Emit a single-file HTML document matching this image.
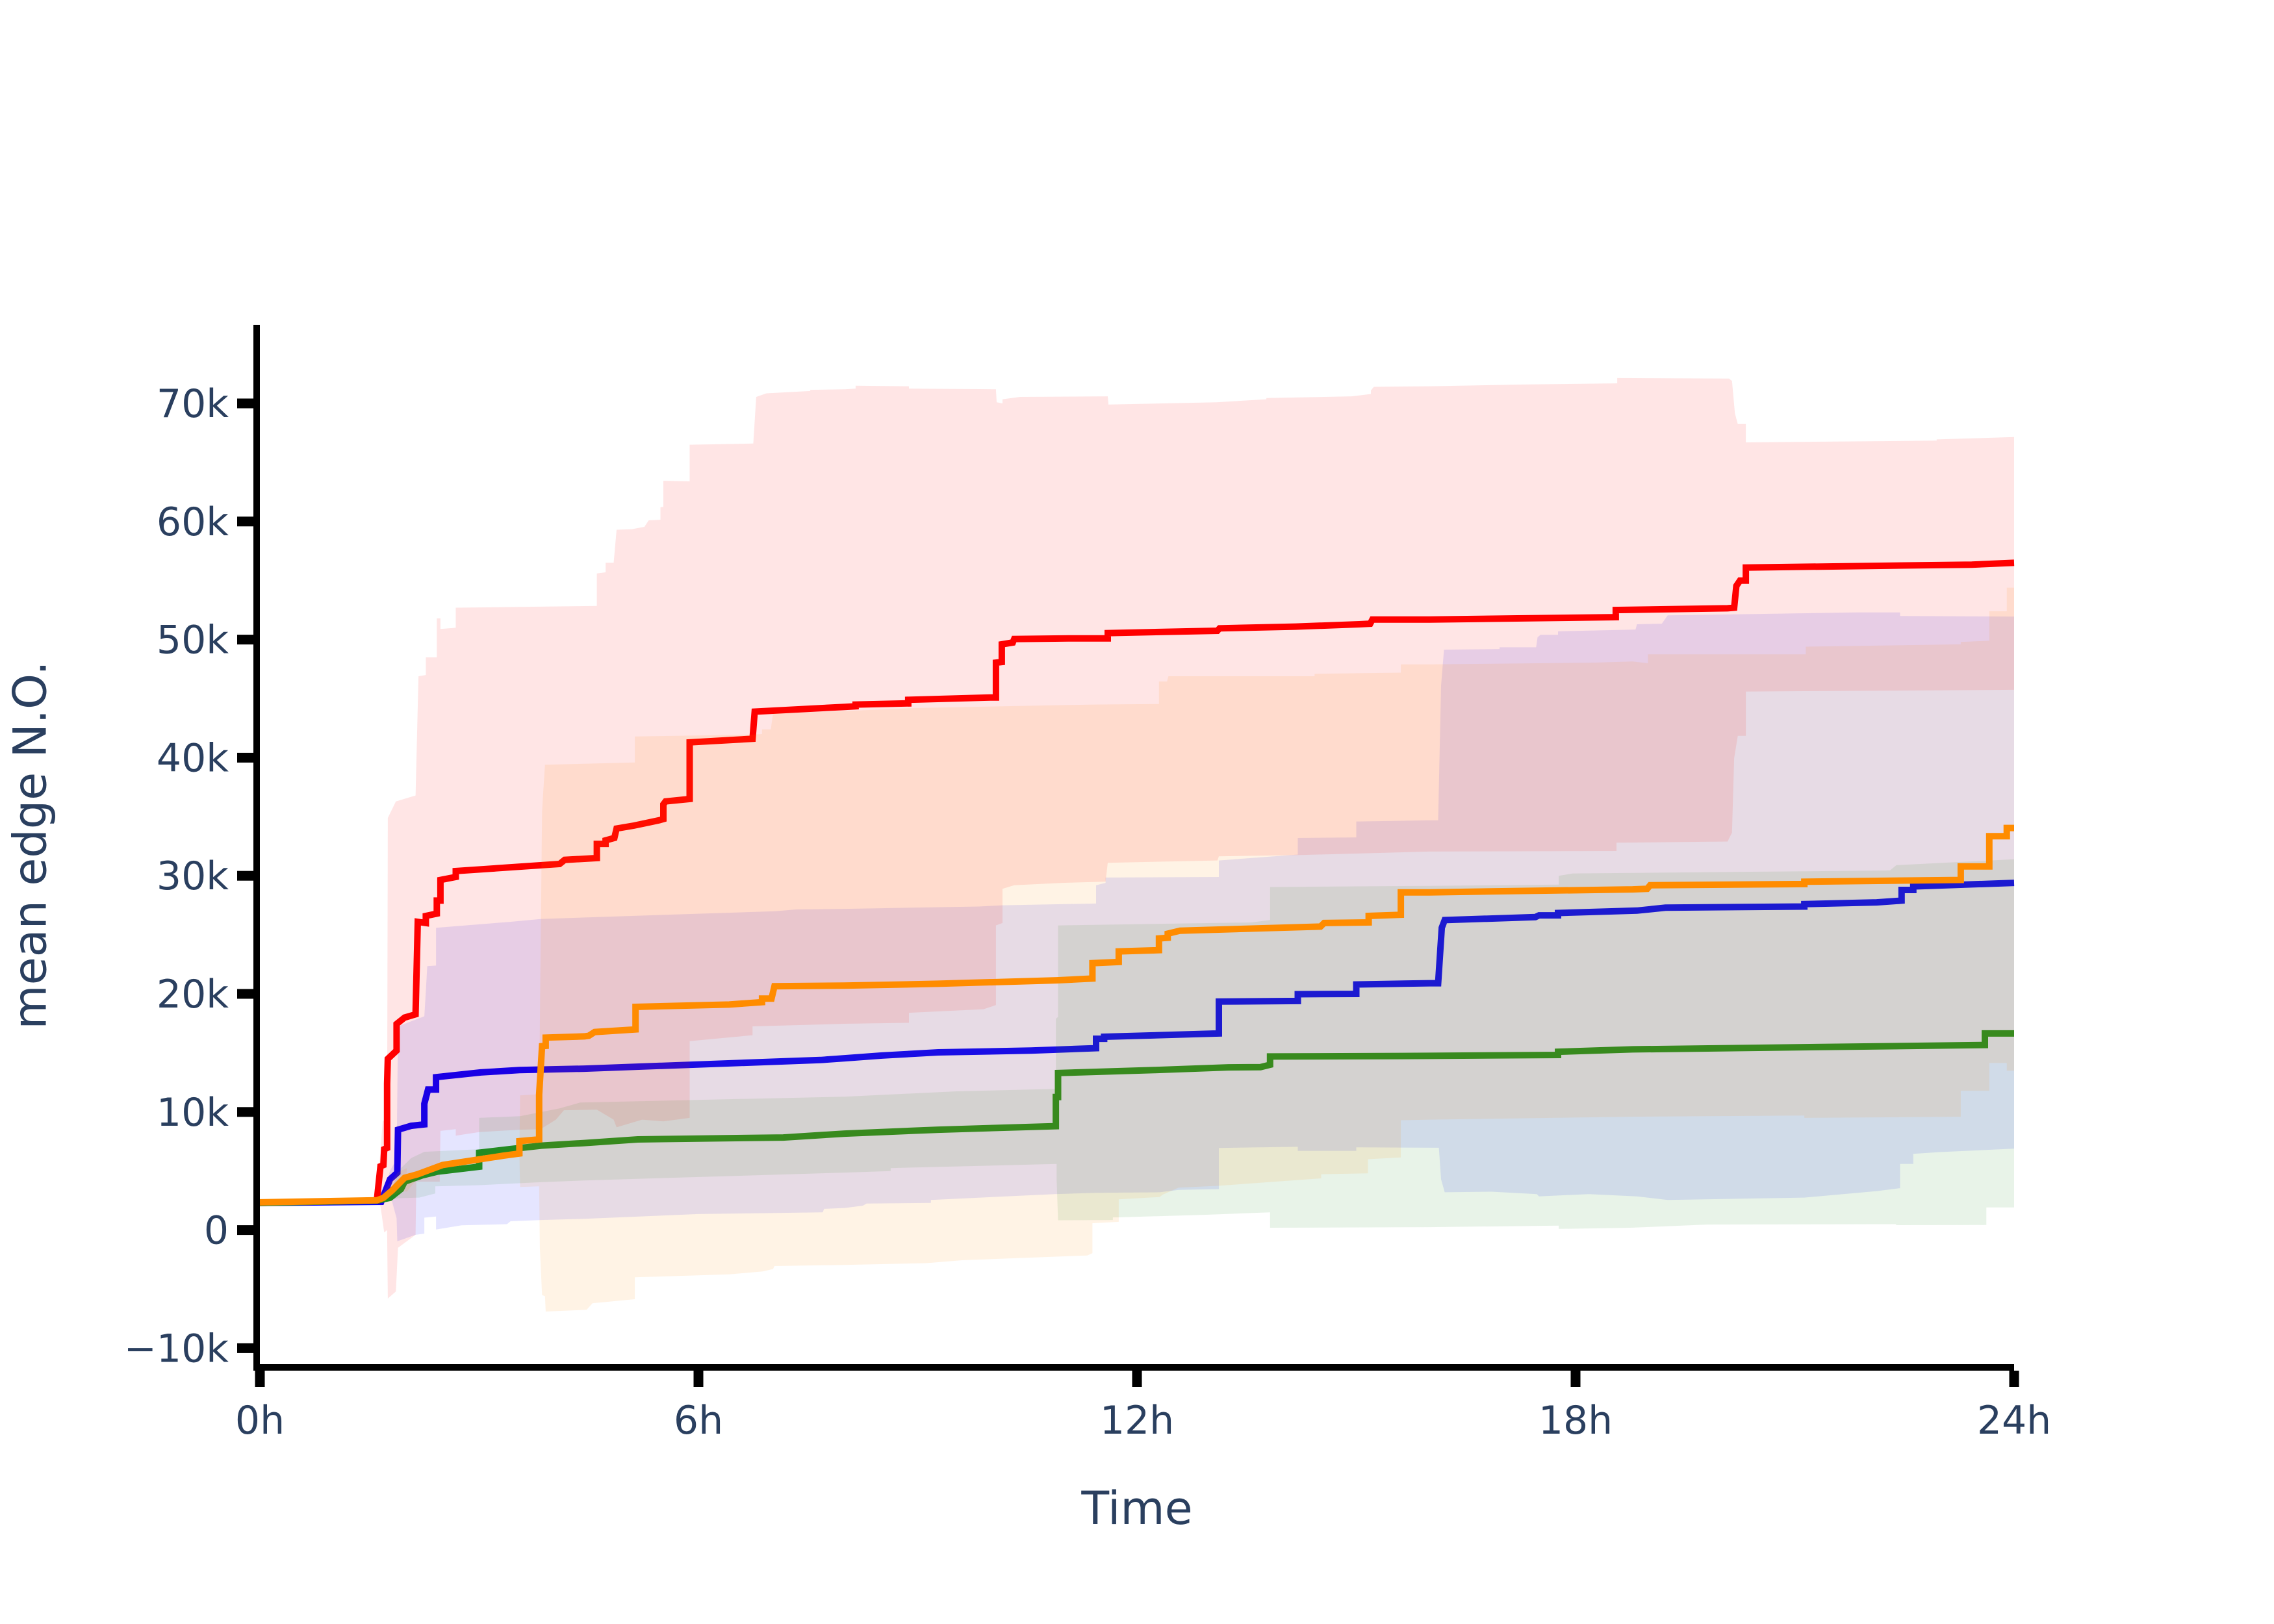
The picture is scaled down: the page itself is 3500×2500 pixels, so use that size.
<!DOCTYPE html>
<html lang="en">
<head>
<meta charset="utf-8">
<title>mean edge N.O. over time</title>
<style>
  html, body { margin: 0; padding: 0; background: #ffffff; }
  #chart { display: block; width: 3500px; height: 2500px; }
  text { font-family: "DejaVu Sans", "Liberation Sans", sans-serif; fill: #2a3f5f; }
</style>
</head>
<body>
<svg id="chart" xmlns="http://www.w3.org/2000/svg" width="3500" height="2500" viewBox="0 0 3500 2500">
  <rect x="0" y="0" width="3500" height="2500" fill="#ffffff"></rect>
  <g id="series"></g>
  <g id="axes"></g>
  <text x="1750" y="2346" font-size="70" text-anchor="middle">Time</text>
  <text x="0" y="0" font-size="70" text-anchor="middle" transform="translate(70.5 1301) rotate(-90)">mean edge N.O.</text>
</svg>
<script>
// Axis ticks
const xTickHours = [0, 6, 12, 18, 24];
const xTickLabels = ["0h", "6h", "12h", "18h", "24h"];
const yTickValues = [-10, 0, 10, 20, 30, 40, 50, 60, 70];
const yTickLabels = ["\u221210k", "0", "10k", "20k", "30k", "40k", "50k", "60k", "70k"];

// Red series (thousands)
const redMeanHours = [
  0,1.6,1.65,1.69,1.7,1.74,1.74,1.75,1.87,1.87,
  1.98,2.13,2.16,2.27,2.27,2.42,2.42,2.47,2.47,2.68,
  2.68,4.1,4.17,4.61,4.61,4.73,4.73,4.85,4.88,5.12,
  5.46,5.52,5.52,5.55,5.88,5.88,6.74,6.77,8,8.15,
  8.15,8.87,8.87,9.99,10.07,10.07,10.15,10.15,10.3,10.32,
  11.06,11.6,11.6,13.1,13.13,14.17,15.04,15.19,15.22,16,
  18.55,18.55,20.08,20.17,20.2,20.25,20.33,20.33,23.42,24];
const redMeanValues = [
  2.3,2.5,5.4,5.5,6.85,6.95,12.4,14.5,15.2,17.45,
  18,18.27,26.1,26,26.6,26.8,27.9,27.9,29.65,29.9,
  30.4,31,31.35,31.5,32.7,32.7,33,33.2,34,34.25,
  34.7,34.8,36.05,36.3,36.5,41.3,41.6,43.9,44.3,44.35,
  44.5,44.6,44.9,45.1,45.1,48.05,48.1,49.6,49.75,50.05,
  50.1,50.1,50.55,50.75,50.95,51.1,51.3,51.35,51.7,51.7,
  51.9,52.5,52.65,52.7,54.55,55,55,56.1,56.35,56.5];
const redUpperHours = [
  1.6,1.68,1.74,1.75,1.86,2.13,2.17,2.27,2.27,2.42,
  2.42,2.47,2.47,2.68,2.68,4.61,4.61,4.73,4.73,4.84,
  4.88,5.09,5.26,5.32,5.48,5.48,5.52,5.52,5.88,5.88,
  6.75,6.79,6.93,7.53,7.53,8,8.15,8.15,8.88,8.88,
  10.07,10.08,10.16,10.16,10.4,11.6,11.61,13.09,13.77,13.77,
  14.94,15.2,15.2,15.24,16,17.3,18.57,18.57,20.1,20.14,
  20.18,20.22,20.33,20.33,22.94,22.94,24];
const redUpperValues = [
  2.7,9.2,9.5,34.9,36.3,36.8,46.9,47,48.5,48.5,
  51.8,51.8,50.9,51,52.7,52.85,55.6,55.7,56.5,56.5,
  59.3,59.35,59.55,60.1,60.15,61.2,61.25,63.45,63.4,66.5,
  66.6,70.55,70.85,71.05,71.15,71.2,71.25,71.5,71.45,71.25,
  71.2,70.1,70,70.35,70.55,70.6,69.9,70.1,70.35,70.45,
  70.6,70.8,71.1,71.4,71.45,71.6,71.7,72.15,72.1,71.9,
  69.15,68.25,68.25,66.7,66.85,66.95,67.15];
const redLowerHours = [
  1.6,1.65,1.67,1.7,1.74,1.75,1.86,1.89,2.13,2.14,
  2.46,2.47,2.68,2.68,3,3.56,3.84,4.05,4.16,4.61,
  4.84,4.88,5.23,5.52,5.88,5.88,6.74,6.74,8,8.88,
  8.88,9.9,10.07,10.07,10.16,10.16,10.32,10.98,11.57,11.6,
  13.1,13.12,14.2,16,18.56,18.56,20.08,20.14,20.17,20.22,
  20.33,20.33,24];
const redLowerValues = [
  2.6,2,1.15,-0.2,0,-5.8,-5.2,-1.5,-0.4,4.1,
  4.1,8.4,8.55,8,8.3,8.5,8.55,9.35,10.15,10.2,
  9.35,8.7,9.35,9.2,9.5,16,16.5,17.25,17.47,17.55,
  18.4,18.7,19.05,25.8,26,28.9,29.2,29.4,29.5,31.1,
  31.3,31.65,31.75,32.05,32.1,32.8,32.9,33.65,39.95,41.85,
  41.85,45.6,45.75];

// Blue series (thousands)
const blueMeanHours = [
  0,1.66,1.78,1.88,1.89,2.07,2.25,2.25,2.3,2.41,
  2.41,3.02,3.55,4.44,7.67,8,8.51,9.28,10.55,11.44,
  11.44,11.55,11.55,12.85,13.12,13.12,14.2,14.2,15,15,
  16,16.12,16.17,16.21,17.45,17.5,17.76,17.76,18.84,19.23,
  21.13,21.13,22.12,22.46,22.46,22.62,22.62,24];
const blueMeanValues = [
  2.3,2.4,4.3,4.85,8.5,8.83,8.95,10.7,11.9,11.9,
  12.95,13.35,13.55,13.67,14.4,14.55,14.78,15.05,15.2,15.4,
  16.2,16.2,16.37,16.6,16.65,19.35,19.4,19.97,20,20.8,
  20.9,20.9,25.6,26.25,26.5,26.65,26.65,26.85,27.05,27.3,
  27.4,27.6,27.75,27.9,28.8,28.8,29.1,29.4];
const blueUpperHours = [
  1.66,1.78,1.87,1.89,2.25,2.27,2.29,2.41,2.41,3.42,
  3.85,7.05,7.34,8,9.84,10.16,11.44,11.44,11.57,11.57,
  13.12,13.12,14.2,14.2,15,15,16,16.12,16.16,16.2,
  16.96,16.96,17.46,17.48,17.52,17.76,17.76,18.82,18.84,19.18,
  19.26,21.84,22.44,22.44,24];
const blueUpperValues = [
  2.5,5.04,6,17.25,18.1,20.2,22.35,22.4,25.6,26.1,
  26.35,27,27.15,27.2,27.4,27.5,27.65,29.2,29.4,29.85,
  29.9,31.3,31.8,33.2,33.25,34.6,34.7,34.7,46.1,49.15,
  49.2,49.35,49.35,50.2,50.4,50.4,50.7,50.85,51.3,51.35,
  52.05,52.3,52.3,52,51.95];
const blueLowerHours = [
  1.66,1.8,1.87,1.88,2.13,2.25,2.25,2.41,2.41,2.76,
  3.38,3.43,3.85,4.44,6,7.7,7.72,8,8.25,8.3,
  9.18,9.18,10.88,11.44,12.31,12.57,13.12,13.12,14.2,14.2,
  15,15,16.13,16.16,16.21,16.85,17.47,17.5,18.18,18.84,
  19.26,21.13,22.12,22.44,22.44,22.62,22.62,22.97,24];
const blueLowerValues = [
  2.4,2.6,1,-0.95,-0.4,-0.3,1.05,1.15,0.05,0.4,
  0.5,0.75,0.85,0.95,1.36,1.5,1.8,1.87,2.07,2.25,
  2.3,2.55,3.05,3.15,3.2,3.4,3.47,6.95,7.05,6.7,
  6.7,7,6.97,4.3,3.2,3.25,3.05,2.85,3.05,2.85,
  2.55,2.75,3.3,3.55,5.6,5.6,6.45,6.6,6.9];

// Green series (thousands)
const greenMeanHours = [
  0,1.6,1.78,1.93,1.98,2.22,2.43,3,3,3.41,
  3.85,4.44,5.17,7.16,8,9.28,10.89,10.89,10.92,10.92,
  12.24,13.25,13.69,13.82,13.82,16,17.76,17.76,18.78,23.6,
  23.6,24];
const greenMeanValues = [
  2.3,2.5,2.73,3.47,4.1,4.63,4.95,5.37,6.55,6.85,
  7.15,7.37,7.68,7.84,8.17,8.5,8.8,11.27,11.27,13.3,
  13.55,13.78,13.8,14,14.7,14.75,14.83,15.1,15.3,15.67,
  16.65,16.65];
const greenUpperHours = [
  1.6,1.78,1.93,2.07,2.25,3,3,3.56,4.1,4.38,
  8,9.53,10.89,10.89,10.92,10.92,13.56,13.82,13.82,16,
  17.77,17.77,17.96,22.3,22.39,24];
const greenUpperValues = [
  2.6,3.3,5.25,6.1,6.63,6.85,9.5,9.65,10.3,10.8,
  11.3,11.75,11.95,17.9,18.05,25.8,26.05,26.25,29.05,29.15,
  29.25,30,30.2,30.45,30.9,31.4];
const greenLowerHours = [
  1.6,1.7,1.89,2.18,2.4,2.4,3,3.82,4.44,8,
  8.63,8.63,10.9,10.9,10.92,11.67,11.67,11.75,12.95,13.82,
  13.82,16,17.77,17.77,18.75,19.8,22.38,22.39,23.62,23.62,
  24];
const greenLowerValues = [
  2.5,2.4,2.7,2.75,3.1,3.7,3.8,4.05,4.2,4.87,
  5,5.25,5.6,4.3,0.83,0.85,1.08,1.08,1.3,1.5,
  0.2,0.25,0.38,0.1,0.2,0.47,0.5,0.42,0.43,1.92,
  1.92];

// Orange series (thousands)
const orangeMeanHours = [
  0,1.6,1.69,1.81,1.98,2.16,2.5,3.33,3.55,3.55,
  3.82,3.82,3.86,3.91,3.91,4.44,4.5,4.58,5.14,5.14,
  6.42,6.87,6.87,7,7.04,8,9.28,10.9,11.39,11.39,
  11.75,11.75,12.3,12.3,12.42,12.42,12.59,14.51,14.56,15.17,
  15.17,15.61,15.61,16,18.78,18.98,19.02,21.13,21.13,23.27,
  23.27,23.66,23.66,23.9,23.9,24];
const orangeMeanValues = [
  2.35,2.52,2.73,3.36,4.43,4.73,5.51,6.3,6.48,7.53,
  7.68,11.47,15.57,15.6,16.3,16.4,16.45,16.77,16.99,18.9,
  19.1,19.3,19.6,19.6,20.65,20.7,20.86,21.15,21.3,22.6,
  22.7,23.6,23.7,24.7,24.75,25.1,25.35,25.7,26,26.05,
  26.6,26.7,28.6,28.6,28.85,28.9,29.2,29.3,29.5,29.65,
  30.8,30.8,33.35,33.35,34.05,34.05];
const orangeUpperHours = [
  1.6,1.89,2.01,2.01,2.16,2.5,3.33,3.55,3.56,3.82,
  3.86,3.87,3.9,5.13,5.13,6.74,6.87,6.87,6.99,7.02,
  8,8.94,11.39,12.3,12.3,12.41,12.43,14.43,14.43,15.61,
  15.61,16,18.24,18.78,18.99,18.99,21.15,21.15,23.27,23.27,
  23.66,23.66,23.9,23.9,24];
const orangeUpperValues = [
  2.55,4.9,5.25,4.7,4.9,5.7,6.5,6.7,11.4,11.5,
  35.4,36.5,39.4,39.6,41.8,41.95,42,42.4,42.4,43.75,
  43.95,44.2,44.5,44.55,46.45,46.45,46.9,46.9,47.1,47.2,
  47.9,47.9,48.05,48.15,48,48.75,48.75,49.4,49.6,49.8,
  49.9,52.4,52.4,54.4,54.4];
const orangeLowerHours = [
  1.6,1.98,2.01,2.16,2.5,3.33,3.55,3.56,3.82,3.83,
  3.86,3.9,3.91,4.47,4.55,5.13,5.13,6.42,6.88,7.02,
  7.04,8,9.12,9.61,11.32,11.39,11.39,11.75,11.75,12.31,
  12.35,12.57,13.12,14.52,14.52,15.16,15.16,15.61,15.61,16,
  18.78,21.13,21.13,23.27,23.27,23.66,23.66,23.9,23.9,24];
const orangeLowerValues = [
  2.45,3.3,3.25,4.4,5.3,6.1,6.3,3.65,3.7,-1.5,
  -5.5,-5.6,-6.9,-6.75,-6.2,-5.85,-4,-3.75,-3.5,-3.3,
  -3.05,-2.95,-2.8,-2.55,-2.15,-1.95,0.58,0.7,2.6,2.8,
  3,3.6,3.75,4.38,4.73,4.8,6,6.15,9.3,9.35,
  9.6,9.7,9.5,9.6,11.8,11.8,14.15,14.15,13.5,13.5];

const SVG_NS = "http://www.w3.org/2000/svg";
const plotLeft = 400, plotRight = 3100, hourSpan = 24;
const zeroY = 1893.6, pxPerThousand = 18.18;

function xAxis(hours) {
  return plotLeft + (hours / hourSpan) * (plotRight - plotLeft);
}
function yAxis(thousands) {
  return zeroY - thousands * pxPerThousand;
}
function toPoints(hours, values) {
  const pts = [];
  const n = Math.min(hours.length, values.length);
  for (let i = 0; i < n; i++) {
    pts.push(xAxis(hours[i]).toFixed(1) + "," + yAxis(values[i]).toFixed(1));
  }
  return pts;
}
function addShape(parent, tag, name) {
  const el = document.createElementNS(SVG_NS, tag);
  
  
  parent.appendChild(el);
  return el;
}
function drawSeries(parent, name, lineColor, fillColor, meanH, meanV, upH, upV, lowH, lowV) {
  const band = addShape(parent, "polygon", name + "-range-band");
  const lower = toPoints(lowH, lowV).reverse();
  band.setAttribute("points", toPoints(upH, upV).concat(lower).join(" "));
  band.setAttribute("fill", fillColor);
  band.setAttribute("stroke", "none");
  const line = addShape(parent, "polyline", name + "-mean-line");
  line.setAttribute("points", toPoints(meanH, meanV).join(" "));
  line.setAttribute("fill", "none");
  line.setAttribute("stroke", lineColor);
  line.setAttribute("stroke-width", "10");
  line.setAttribute("stroke-linejoin", "miter");
  line.setAttribute("stroke-miterlimit", "2");
}

const seriesLayer = document.getElementById("series");
drawSeries(seriesLayer, "blue", "rgb(0,0,255)", "rgba(0,0,255,0.1)", blueMeanHours, blueMeanValues, blueUpperHours, blueUpperValues, blueLowerHours, blueLowerValues);
drawSeries(seriesLayer, "red", "rgb(255,0,0)", "rgba(255,0,0,0.1)", redMeanHours, redMeanValues, redUpperHours, redUpperValues, redLowerHours, redLowerValues);
drawSeries(seriesLayer, "green", "rgb(34,139,34)", "rgba(34,139,34,0.1)", greenMeanHours, greenMeanValues, greenUpperHours, greenUpperValues, greenLowerHours, greenLowerValues);
drawSeries(seriesLayer, "orange", "rgb(255,140,0)", "rgba(255,140,0,0.1)", orangeMeanHours, orangeMeanValues, orangeUpperHours, orangeUpperValues, orangeLowerHours, orangeLowerValues);

const axesLayer = document.getElementById("axes");

const yLine = addShape(axesLayer, "rect", "y-axis-line");
yLine.setAttribute("x", "390");
yLine.setAttribute("y", "500");
yLine.setAttribute("width", "10");
yLine.setAttribute("height", "1610");
yLine.setAttribute("fill", "#000000");

const xLine = addShape(axesLayer, "rect", "x-axis-line");
xLine.setAttribute("x", "390");
xLine.setAttribute("y", "2100");
xLine.setAttribute("width", "2710");
xLine.setAttribute("height", "10");
xLine.setAttribute("fill", "#000000");

yTickValues.forEach(function (value, i) {
  const tick = addShape(axesLayer, "rect", "y-tick-" + i);
  tick.setAttribute("x", "365");
  tick.setAttribute("y", (yAxis(value) - 7.5).toFixed(1));
  tick.setAttribute("width", "25");
  tick.setAttribute("height", "15");
  tick.setAttribute("fill", "#000000");
  const label = addShape(axesLayer, "text", "y-tick-label-" + i);
  label.setAttribute("x", "352");
  label.setAttribute("y", (yAxis(value) + 21).toFixed(1));
  label.setAttribute("font-size", "60");
  label.setAttribute("text-anchor", "end");
  label.textContent = yTickLabels[i];
});

xTickHours.forEach(function (hour, i) {
  const tick = addShape(axesLayer, "rect", "x-tick-" + i);
  tick.setAttribute("x", (xAxis(hour) - 7.5).toFixed(1));
  tick.setAttribute("y", "2110");
  tick.setAttribute("width", "15");
  tick.setAttribute("height", "25");
  tick.setAttribute("fill", "#000000");
  const label = addShape(axesLayer, "text", "x-tick-label-" + i);
  label.setAttribute("x", xAxis(hour).toFixed(1));
  label.setAttribute("y", "2207");
  label.setAttribute("font-size", "60");
  label.setAttribute("text-anchor", "middle");
  label.textContent = xTickLabels[i];
});
</script>
</body>
</html>
